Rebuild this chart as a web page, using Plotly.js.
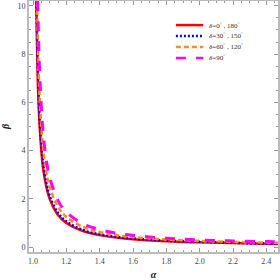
<!DOCTYPE html>
<html><head><meta charset="utf-8">
<script src="https://cdn.plot.ly/plotly-3.0.1.min.js"></script>
<style>html,body{margin:0;padding:0;background:#fff}#c{width:280px;height:280px}</style>
</head><body><div id="c"></div>
<script>
const alpha = [1.018, 1.02, 1.03, 1.04, 1.05, 1.06, 1.08, 1.1, 1.15, 1.2, 1.3, 1.4, 1.5, 1.6, 1.8, 2.0, 2.2, 2.4, 2.5];
const beta0  = [11.1, 10.0, 6.6, 5.0, 4.0, 3.3, 2.5, 2.0, 1.33, 1.0, 0.67, 0.50, 0.40, 0.33, 0.25, 0.20, 0.17, 0.14, 0.13];
const beta30 = [11.8, 10.6, 7.1, 5.3, 4.25, 3.55, 2.67, 2.13, 1.42, 1.07, 0.71, 0.53, 0.43, 0.36, 0.27, 0.22, 0.18, 0.15, 0.14];
const beta60 = [13.8, 12.4, 8.3, 6.2, 5.0, 4.15, 3.12, 2.5, 1.67, 1.25, 0.84, 0.63, 0.50, 0.42, 0.32, 0.26, 0.22, 0.19, 0.18];
const beta90 = [16.0, 14.4, 9.6, 7.2, 5.8, 4.8, 3.6, 2.9, 1.93, 1.45, 0.97, 0.73, 0.58, 0.49, 0.37, 0.30, 0.26, 0.23, 0.22];
const names = ['<i>δ</i>=0<sup>°</sup> , 180<sup>°</sup>', '<i>δ</i>=30<sup>°</sup> , 150<sup>°</sup>', '<i>δ</i>=60<sup>°</sup> , 120<sup>°</sup>', '<i>δ</i>=90<sup>°</sup>'];
const xTicks = [1.0, 1.2, 1.4, 1.6, 1.8, 2.0, 2.2, 2.4];
const yTicks = [0, 2, 4, 6, 8, 10];

const styles = [
  {color: '#ff0000', width: 2.5},
  {color: '#0000ff', width: 2.5, dash: '2px,2px'},
  {color: '#ff8c1a', width: 2.5, dash: '5px,3px'},
  {color: '#ff00ff', width: 3, dash: '10px,10px'}
];
const series = [beta0, beta30, beta60, beta90];

const traces = series.map((ys, i) => ({
  type: 'scatter', mode: 'lines', x: alpha, y: ys, name: names[i],
  line: Object.assign({shape: 'spline'}, styles[i]), showlegend: false
}));

// custom compact legend (paper coordinates)
const legRows = [0.904, 0.861, 0.817, 0.773];
const shapes = legRows.map((y, i) => ({
  type: 'line', xref: 'paper', yref: 'paper', x0: 0.59, x1: 0.70, y0: y, y1: y,
  line: Object.assign({}, styles[i], {width: Math.min(styles[i].width, 2.5)})
}));
const annotations = legRows.map((y, i) => ({
  xref: 'paper', yref: 'paper', x: 0.715, y: y, xanchor: 'left', yanchor: 'middle',
  text: names[i], showarrow: false,
  font: {family: 'Liberation Serif, Times New Roman, serif', size: 7, color: '#333'}
}));

const ax = {
  showgrid: false, zeroline: false, showline: true, linecolor: '#bbbbbb', linewidth: 2, mirror: 'allticks',
  ticks: 'inside', ticklen: 4, tickcolor: '#999999', tickwidth: 1,
  tickfont: {family: 'Liberation Serif, Times New Roman, serif', size: 8, color: '#444'}
};
const layout = {
  width: 280, height: 280,
  margin: {l: 29, r: 2, t: 1, b: 28},
  paper_bgcolor: '#fff', plot_bgcolor: '#fff',
  showlegend: false,
  shapes: shapes, annotations: annotations,
  xaxis: Object.assign({}, ax, {range: [0.976, 2.47], tickvals: xTicks, ticktext: xTicks.map(v => v.toFixed(1)),
    minor: {dtick: 0.05, tick0: 1.0, ticks: 'inside', ticklen: 2, tickcolor: '#999999'},
    title: {text: '<b><i>α</i></b>', font: {family: 'Liberation Serif, serif', size: 10, color: '#222'}, standoff: 14}}),
  yaxis: Object.assign({}, ax, {range: [-0.2, 10.2], tickvals: yTicks, ticktext: yTicks.map(String),
    minor: {dtick: 0.5, tick0: 0, ticks: 'inside', ticklen: 2, tickcolor: '#999999'},
    title: {text: '<b><i>β</i></b>', font: {family: 'Liberation Serif, serif', size: 10, color: '#222'}, standoff: 10}})
};
Plotly.newPlot('c', traces, layout, {displayModeBar: false, staticPlot: true});
</script></body></html>
